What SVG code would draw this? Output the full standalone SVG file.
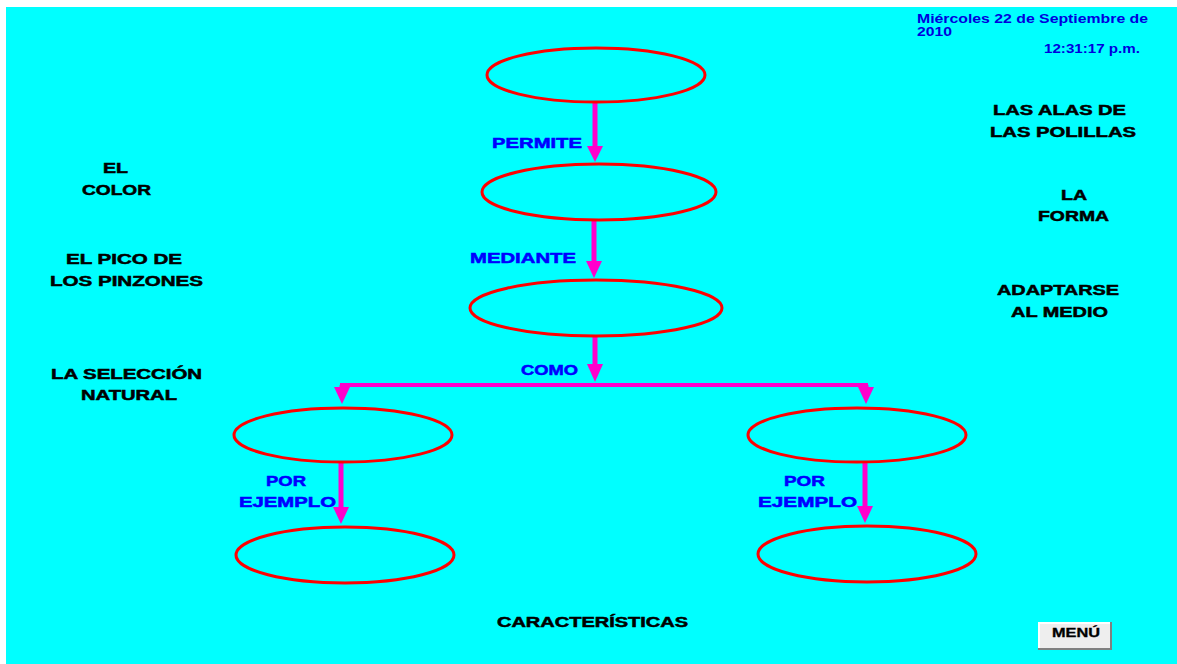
<svg xmlns="http://www.w3.org/2000/svg" width="1177" height="664" viewBox="0 0 1177 664">
<defs>
<style>
.bg{fill:#00FFFF}
.node{fill:none;stroke:#FF0000;stroke-width:3}
.edge{stroke:#FF00CC;stroke-width:5;fill:none}
.hedge{stroke:#FF00CC;stroke-width:4;fill:none}
.lbl{font-family:"Liberation Sans",Arial,sans-serif;font-weight:bold;font-size:14px;fill:#0000FF;stroke:#0000FF;stroke-width:0.5}
.txt{font-family:"Liberation Sans",Arial,sans-serif;font-weight:bold;font-size:14px;fill:#000000;stroke:#000000;stroke-width:0.5}
.date{font-family:"Liberation Sans",Arial,sans-serif;font-weight:bold;font-size:12px;fill:#0000DD}
.btn{font-family:"Liberation Sans",Arial,sans-serif;font-weight:bold;font-size:12px;fill:#000000;stroke:#000000;stroke-width:0.3}
</style>
</defs>
<rect x="0" y="0" width="1177" height="664" fill="#FFFFFF"/>
<rect class="bg" x="6" y="7" width="1171" height="657"/>

<g id="connectors">
<line class="edge" x1="595" y1="103" x2="595" y2="146"/>
<polygon points="587,146 603,146 595,162" fill="#FF00CC"/>
<line class="edge" x1="594" y1="220" x2="594" y2="262"/>
<polygon points="586,261 602,261 594,278" fill="#FF00CC"/>
<line class="edge" x1="595" y1="337" x2="595" y2="365"/>
<polygon points="587,364 603,364 595,382" fill="#FF00CC"/>
<line class="hedge" x1="340" y1="385" x2="868" y2="385"/>
<line class="edge" x1="342" y1="385" x2="342" y2="390"/>
<polygon points="334,387 350,387 342,404" fill="#FF00CC"/>
<line class="edge" x1="866" y1="385" x2="866" y2="390"/>
<polygon points="858,387 874,387 866,404" fill="#FF00CC"/>
<line class="edge" x1="341" y1="463" x2="341" y2="508"/>
<polygon points="333,507 349,507 341,524" fill="#FF00CC"/>
<line class="edge" x1="865" y1="463" x2="865" y2="508"/>
<polygon points="857,506 873,506 865,523" fill="#FF00CC"/>
</g>

<g id="n1"><ellipse class="node" cx="596" cy="75" rx="109" ry="27"/></g>
<g id="n2"><ellipse class="node" cx="599" cy="192" rx="117" ry="28"/></g>
<g id="n3"><ellipse class="node" cx="596" cy="308" rx="126" ry="28"/></g>
<g id="n4"><ellipse class="node" cx="343" cy="435" rx="109" ry="27"/></g>
<g id="n5"><ellipse class="node" cx="857" cy="435" rx="109" ry="27"/></g>
<g id="n6"><ellipse class="node" cx="345" cy="555" rx="109" ry="28"/></g>
<g id="n7"><ellipse class="node" cx="867" cy="554" rx="109" ry="28"/></g>

<g id="labels">
<text class="lbl" x="492" y="148" textLength="90" lengthAdjust="spacingAndGlyphs">PERMITE</text>
<text class="lbl" x="470" y="263" textLength="106" lengthAdjust="spacingAndGlyphs">MEDIANTE</text>
<text class="lbl" x="521" y="375" textLength="57" lengthAdjust="spacingAndGlyphs">COMO</text>
<text class="lbl" x="266" y="486" textLength="40" lengthAdjust="spacingAndGlyphs">POR</text>
<text class="lbl" x="239" y="507" textLength="97" lengthAdjust="spacingAndGlyphs">EJEMPLO</text>
<text class="lbl" x="784" y="486" textLength="41" lengthAdjust="spacingAndGlyphs">POR</text>
<text class="lbl" x="758" y="507" textLength="99" lengthAdjust="spacingAndGlyphs">EJEMPLO</text>
</g>

<g id="t-color">
<text class="txt" x="103" y="173" textLength="25" lengthAdjust="spacingAndGlyphs">EL</text>
<text class="txt" x="82" y="195" textLength="69" lengthAdjust="spacingAndGlyphs">COLOR</text>
</g>
<g id="t-pico">
<text class="txt" x="66" y="264" textLength="116" lengthAdjust="spacingAndGlyphs">EL PICO DE</text>
<text class="txt" x="50" y="286" textLength="153" lengthAdjust="spacingAndGlyphs">LOS PINZONES</text>
</g>
<g id="t-seleccion">
<text class="txt" x="51" y="379" textLength="151" lengthAdjust="spacingAndGlyphs">LA SELECCIÓN</text>
<text class="txt" x="81" y="400" textLength="96" lengthAdjust="spacingAndGlyphs">NATURAL</text>
</g>
<g id="t-alas">
<text class="txt" x="993" y="115" textLength="133" lengthAdjust="spacingAndGlyphs">LAS ALAS DE</text>
<text class="txt" x="990" y="137" textLength="146" lengthAdjust="spacingAndGlyphs">LAS POLILLAS</text>
</g>
<g id="t-forma">
<text class="txt" x="1061" y="200" textLength="26" lengthAdjust="spacingAndGlyphs">LA</text>
<text class="txt" x="1038" y="221" textLength="71" lengthAdjust="spacingAndGlyphs">FORMA</text>
</g>
<g id="t-adaptarse">
<text class="txt" x="997" y="295" textLength="122" lengthAdjust="spacingAndGlyphs">ADAPTARSE</text>
<text class="txt" x="1011" y="317" textLength="97" lengthAdjust="spacingAndGlyphs">AL MEDIO</text>
</g>
<g id="t-caract">
<text class="txt" x="497" y="627" textLength="191" lengthAdjust="spacingAndGlyphs">CARACTERÍSTICAS</text>
</g>

<g id="date">
<text class="date" x="917" y="23" textLength="231" lengthAdjust="spacingAndGlyphs">Miércoles 22 de Septiembre de</text>
<text class="date" x="917" y="36" textLength="35" lengthAdjust="spacingAndGlyphs">2010</text>
<text class="date" x="1044" y="53" textLength="96" lengthAdjust="spacingAndGlyphs">12:31:17 p.m.</text>
</g>

<g id="menu">
<rect x="1038" y="622" width="74" height="28" fill="#808080"/>
<rect x="1038" y="622" width="72" height="26" fill="#FFFFFF"/>
<rect x="1040" y="624" width="70" height="24" fill="#EEEEEE"/>
<text class="btn" x="1052" y="637" textLength="48" lengthAdjust="spacingAndGlyphs">MENÚ</text>
</g>
</svg>
